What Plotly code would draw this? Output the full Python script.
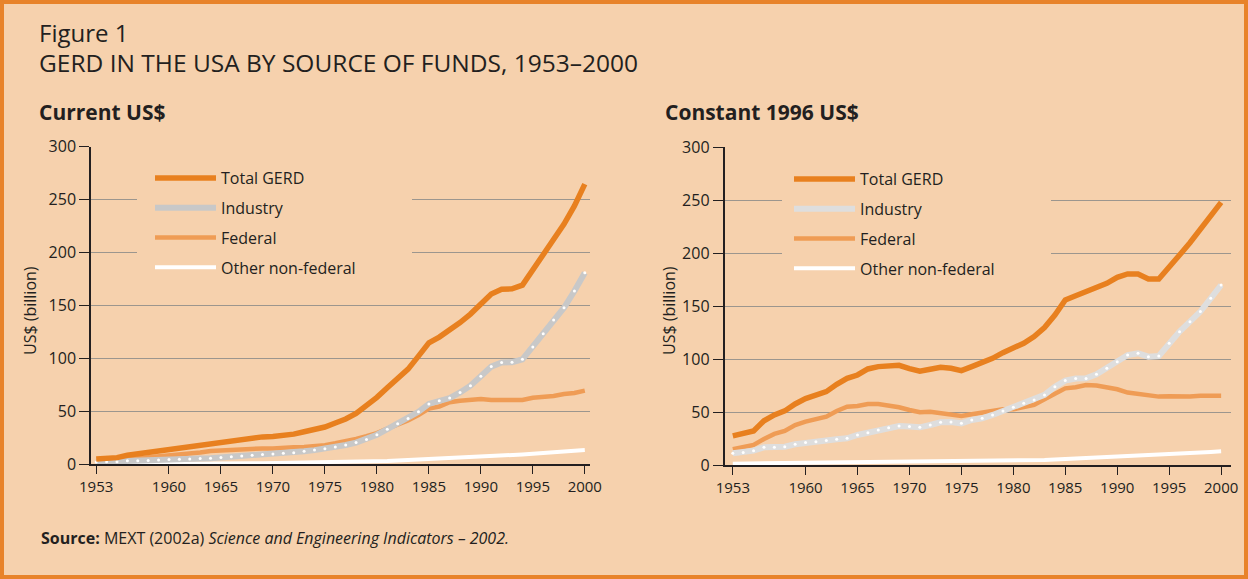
import plotly.graph_objects as go

# ---------------- data ----------------
years = list(range(1953, 2001))

cur_total = [5.1, 5.7, 6.3, 8.5, 9.9, 10.9, 12.5, 13.7, 14.6, 15.6,
             17.3, 19.0, 20.3, 22.1, 23.3, 24.7, 25.9, 26.3, 26.9, 28.5,
             30.7, 32.9, 35.2, 39.0, 42.8, 48.1, 54.9, 63.2, 72.3, 80.7,
             89.9, 102.2, 114.7, 120.2, 126.4, 133.9, 141.9, 152.0, 160.9, 165.4,
             165.7, 169.2, 183.6, 197.3, 212.4, 226.9, 244.1, 264.6]
cur_industry = [2.2, 2.4, 2.5, 3.3, 3.4, 3.6, 4.0, 4.5, 4.7, 5.1,
                5.4, 5.8, 6.4, 7.2, 7.9, 8.6, 9.3, 9.8, 10.4, 11.0,
                12.3, 13.4, 14.6, 16.4, 18.2, 20.5, 23.5, 27.9, 33.2, 38.4,
                43.3, 49.6, 57.0, 60.1, 62.6, 67.9, 74.3, 83.2, 92.3, 96.2,
                96.5, 99.2, 110.9, 123.4, 136.2, 147.9, 163.7, 181.0]
cur_federal = [2.8, 3.0, 3.5, 4.4, 5.8, 6.6, 8.0, 8.7, 9.3, 9.9,
               11.2, 12.5, 13.0, 14.0, 14.4, 14.9, 15.0, 14.9, 15.0, 16.0,
               16.4, 17.1, 18.1, 19.9, 21.7, 24.0, 26.6, 29.5, 33.7, 37.1,
               41.5, 46.5, 52.6, 54.6, 58.6, 60.1, 60.4, 61.6, 60.8, 60.9,
               60.5, 60.7, 62.9, 63.4, 64.6, 66.4, 67.4, 69.6]
cur_other = [0.1, 0.1, 0.2, 0.2, 0.3, 0.3, 0.4, 0.4, 0.5, 0.5,
             0.6, 0.6, 0.7, 0.8, 0.9, 1.0, 1.1, 1.2, 1.3, 1.4,
             1.5, 1.6, 1.8, 1.9, 2.1, 2.3, 2.5, 2.8, 3.2, 3.6,
             4.0, 4.4, 4.9, 5.3, 5.8, 6.3, 6.8, 7.3, 7.8, 8.3,
             8.8, 9.3, 9.9, 10.5, 11.1, 11.8, 12.6, 13.5]

con_total = [27.7, 29.6, 32.4, 42.0, 47.5, 51.3, 57.9, 62.9, 65.7, 69.5,
             76.4, 82.0, 85.2, 90.9, 93.1, 94.0, 94.3, 91.2, 88.7, 90.6,
             92.5, 91.5, 89.3, 93.1, 96.9, 100.9, 106.3, 110.4, 115.1, 121.4,
             129.9, 141.8, 156.0, 160.0, 163.5, 168.0, 171.7, 177.4, 180.5, 180.5,
             175.8, 175.8, 188.0, 198.4, 210.0, 222.0, 234.0, 248.0]
con_industry = [11.3, 12.0, 13.8, 17.0, 17.0, 17.6, 19.8, 21.4, 22.3, 23.3,
                24.5, 25.5, 28.6, 30.8, 33.3, 35.5, 37.1, 36.5, 35.8, 38.0,
                40.6, 40.9, 39.6, 42.8, 44.3, 47.5, 51.3, 54.7, 58.5, 61.6,
                66.4, 74.2, 79.9, 81.8, 82.0, 85.8, 91.5, 97.8, 104.0, 105.7,
                102.5, 103.1, 115.1, 126.1, 135.5, 145.0, 157.5, 170.1]
con_federal = [15.1, 16.7, 19.2, 24.8, 29.6, 32.4, 38.0, 41.2, 43.4, 45.9,
               51.3, 55.3, 56.0, 57.9, 57.9, 56.6, 54.7, 52.2, 50.0, 50.6,
               49.1, 47.5, 46.5, 48.1, 49.7, 51.6, 52.8, 52.8, 54.4, 56.9,
               62.3, 67.9, 72.6, 73.6, 75.8, 75.2, 73.6, 71.7, 68.6, 67.3,
               65.7, 64.8, 65.1, 64.8, 64.8, 65.7, 65.7, 65.7]
con_other = [1.5, 1.6, 1.7, 1.8, 1.9, 2.0, 2.1, 2.2, 2.3, 2.4,
             2.5, 2.6, 2.7, 2.8, 2.9, 3.0, 3.0, 3.1, 3.1, 3.2,
             3.3, 3.4, 3.5, 3.6, 3.7, 3.8, 3.9, 4.0, 4.3, 4.6,
             5.0, 5.4, 5.8, 6.3, 6.8, 7.3, 7.8, 8.3, 8.7, 9.0,
             9.3, 9.6, 10.2, 10.8, 11.4, 12.0, 12.6, 13.2]

x_tick_vals = [1953, 1960, 1965, 1970, 1975, 1980, 1985, 1990, 1995, 2000]
x_tick_text = ["1953", "1960", "1965", "1970", "1975", "1980", "1985", "1990", "1995", "2000"]
y_tick_vals = [0, 50, 100, 150, 200, 250, 300]
series_names = ["Total GERD", "Industry", "Federal", "Other non-federal"]

# ---------------- style ----------------
W, H = 1248, 579
BG = "#f6d1ad"
FRAME = "#e8832a"
TXT = "#231f20"
GRID = "#9c968e"
C_TOTAL = "#e8801f"
C_FED = "#ef9c55"
C_IND_L = "#c8c8c8"
C_IND_R = "#dedede"
C_OTHER = "#ffffff"
FONT = "Open Sans"


def px(x):
    return x / W


def py(y):
    return 1 - y / H


fig = go.Figure()


def add_panel(xa, ya, leg, total, industry, federal, other, ind_color):
    common = dict(x=years, xaxis=xa, yaxis=ya, legend=leg, mode="lines")
    fig.add_trace(go.Scatter(y=other, name=series_names[3], legendrank=4, legendgroup=leg + "o",
                             line=dict(color=C_OTHER, width=4), **common))
    fig.add_trace(go.Scatter(y=federal, name=series_names[2], legendrank=3, legendgroup=leg + "f",
                             line=dict(color=C_FED, width=4.5), **common))
    fig.add_trace(go.Scatter(y=industry, name=series_names[1], legendrank=2, legendgroup=leg + "i",
                             line=dict(color=ind_color, width=6), **common))
    fig.add_trace(go.Scatter(x=years, y=industry, xaxis=xa, yaxis=ya, mode="markers",
                             marker=dict(color="white", size=3), showlegend=False,
                             hoverinfo="skip"))
    fig.add_trace(go.Scatter(y=total, name=series_names[0], legendrank=1, legendgroup=leg + "t",
                             line=dict(color=C_TOTAL, width=5.5), **common))


add_panel("x", "y", "legend", cur_total, cur_industry, cur_federal, cur_other, C_IND_L)
add_panel("x2", "y2", "legend2", con_total, con_industry, con_federal, con_other, C_IND_R)

xaxis_common = dict(
    tickvals=x_tick_vals, ticktext=x_tick_text, showgrid=False, zeroline=False,
    showline=True, linecolor=TXT, linewidth=1.5, ticks="outside", ticklen=8,
    tickcolor=TXT, tickwidth=1.2, tickfont=dict(size=15, color=TXT, family=FONT),
    automargin=False,
)
yaxis_common = dict(
    range=[0, 300], tickvals=y_tick_vals, showgrid=True, gridcolor=GRID, gridwidth=1,
    zeroline=False, showline=True, linecolor=TXT, linewidth=1.5, ticks="outside",
    ticklen=10, tickcolor=TXT, tickwidth=1.2,
    tickfont=dict(size=16, color=TXT, family=FONT), automargin=False,
)

legend_common = dict(
    xanchor="left", yanchor="top", bgcolor="rgba(0,0,0,0)", borderwidth=0,
    font=dict(size=16, color=TXT, family=FONT), itemwidth=61,
    traceorder="grouped", tracegroupgap=6,
)

fig.update_layout(
    width=W, height=H, autosize=False,
    margin=dict(l=0, r=0, t=0, b=0, pad=0, autoexpand=False),
    paper_bgcolor=BG, plot_bgcolor=BG,
    showlegend=True,
    xaxis=dict(domain=[px(91), px(590)], range=[1952.5, 2000.5], anchor="y", **xaxis_common),
    yaxis=dict(domain=[py(464.3), py(146.7)], anchor="x", **yaxis_common),
    xaxis2=dict(domain=[px(724.5), px(1231)], range=[1952.2, 2000.95], anchor="y2", **xaxis_common),
    yaxis2=dict(domain=[py(465.3), py(147.3)], anchor="x2", **yaxis_common),
    legend=dict(x=px(150), y=py(161), **legend_common),
    legend2=dict(x=px(789), y=py(162), **legend_common),
)

# masks behind legends (hide gridlines as in the original) and outer frame
shapes = [
    dict(type="rect", xref="paper", yref="paper", x0=px(137), x1=px(412), y0=py(290), y1=py(163),
         fillcolor=BG, line=dict(width=0), layer="above"),
    dict(type="rect", xref="paper", yref="paper", x0=px(782), x1=px(1051), y0=py(290), y1=py(164),
         fillcolor=BG, line=dict(width=0), layer="above"),
    dict(type="rect", xref="paper", yref="paper", x0=px(2), x1=px(W - 2), y0=py(H - 2), y1=py(2),
         fillcolor="rgba(0,0,0,0)", line=dict(color=FRAME, width=4), layer="above"),
]
fig.update_layout(shapes=shapes)

annotations = [
    dict(text="Figure 1", x=px(37), y=py(32), xanchor="left", yanchor="middle",
         font=dict(size=24, color=TXT, family=FONT)),
    dict(text="GERD IN THE USA BY SOURCE OF FUNDS, 1953\u20132000", x=px(37), y=py(63),
         xanchor="left", yanchor="middle", font=dict(size=24.5, color=TXT, family=FONT)),
    dict(text="<b>Current US$</b>", x=px(37), y=py(112), xanchor="left", yanchor="middle",
         font=dict(size=21, color=TXT, family=FONT)),
    dict(text="<b>Constant 1996 US$</b>", x=px(663), y=py(112), xanchor="left", yanchor="middle",
         font=dict(size=21, color=TXT, family=FONT)),
    dict(text="US$ (billion)", x=px(30), y=py(311), textangle=-90, xanchor="center", yanchor="middle",
         font=dict(size=16, color=TXT, family=FONT)),
    dict(text="US$ (billion)", x=px(669), y=py(311), textangle=-90, xanchor="center", yanchor="middle",
         font=dict(size=16, color=TXT, family=FONT)),
    dict(text="<b>Source:</b> MEXT (2002a) <i>Science and Engineering Indicators \u2013 2002.</i>",
         x=px(39), y=py(538), xanchor="left", yanchor="middle",
         font=dict(size=16, color=TXT, family=FONT)),
]
for a in annotations:
    a.update(xref="paper", yref="paper", showarrow=False)
fig.update_layout(annotations=annotations)

# remove the page's default body margin so the figure sits at the window origin
fig.write_html(
    "out.html",
    config={"displayModeBar": False},
    post_script="document.body.style.margin='0';document.body.style.background='" + BG + "';",
)
